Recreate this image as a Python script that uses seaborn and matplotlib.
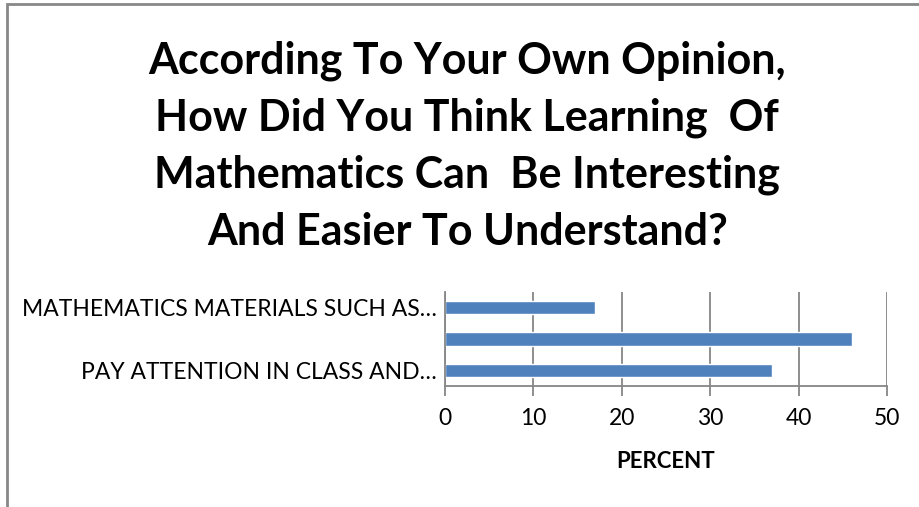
import matplotlib
matplotlib.use("Agg")
import matplotlib.pyplot as plt
import matplotlib.patches as patches
import seaborn as sb
import pandas as pd

# chart data
categories = ["MATHEMATICS MATERIALS SUCH AS\u2026", "", "PAY ATTENTION IN CLASS AND\u2026"]
percent = [17, 46, 37]
x_ticks = [0, 10, 20, 30, 40, 50]
title = ("According To Your Own Opinion,\nHow Did You Think Learning  Of\n"
         "Mathematics Can  Be Interesting\nAnd Easier To Understand?")

sb.set_style("white")
plt.rcParams['font.family'] = ['Lato', 'DejaVu Sans']
plt.rcParams['text.color'] = 'black'
plt.rcParams['axes.labelcolor'] = 'black'
plt.rcParams['xtick.labelcolor'] = 'black'
plt.rcParams['ytick.labelcolor'] = 'black'

df = pd.DataFrame({'answer': categories, 'percent': percent})

fig = plt.figure(figsize=(9.2, 5.07), dpi=100)
ax = fig.add_axes([0.4837, 0.2387, 0.4804, 0.1853])

sb.barplot(data=df, x='percent', y='answer', orient='h', color='#4f81bd',
           saturation=1, width=0.42, ax=ax)

grid = '#868686'
ax.set_xlim(0, 50)
ax.set_xticks(x_ticks)
ax.xaxis.grid(True, color=grid, linewidth=1.3)
ax.set_axisbelow(True)
for s in ['top', 'right']:
    ax.spines[s].set_visible(False)
for s in ['left', 'bottom']:
    ax.spines[s].set_color(grid)
    ax.spines[s].set_linewidth(1.3)
ax.tick_params(axis='x', direction='out', length=7, width=1.3, color=grid,
               labelsize=16.5, pad=9, bottom=True)
ax.tick_params(axis='y', length=0, labelsize=16.5, pad=6)
ax.set_ylabel('')
ax.set_xlabel('PERCENT', fontsize=16, fontweight='bold', labelpad=16)

fig.text(0.508, 0.712, title, ha='center', va='center', fontsize=31,
         fontweight='bold', linespacing=1.5)

# chart frame
fig.patches.append(patches.Rectangle((7 / 920, -0.1), 1.2, 1 - 4 / 507 + 0.1,
                                     transform=fig.transFigure, fill=False,
                                     edgecolor='#888888', linewidth=2))

fig.savefig('out.png', dpi=100)
